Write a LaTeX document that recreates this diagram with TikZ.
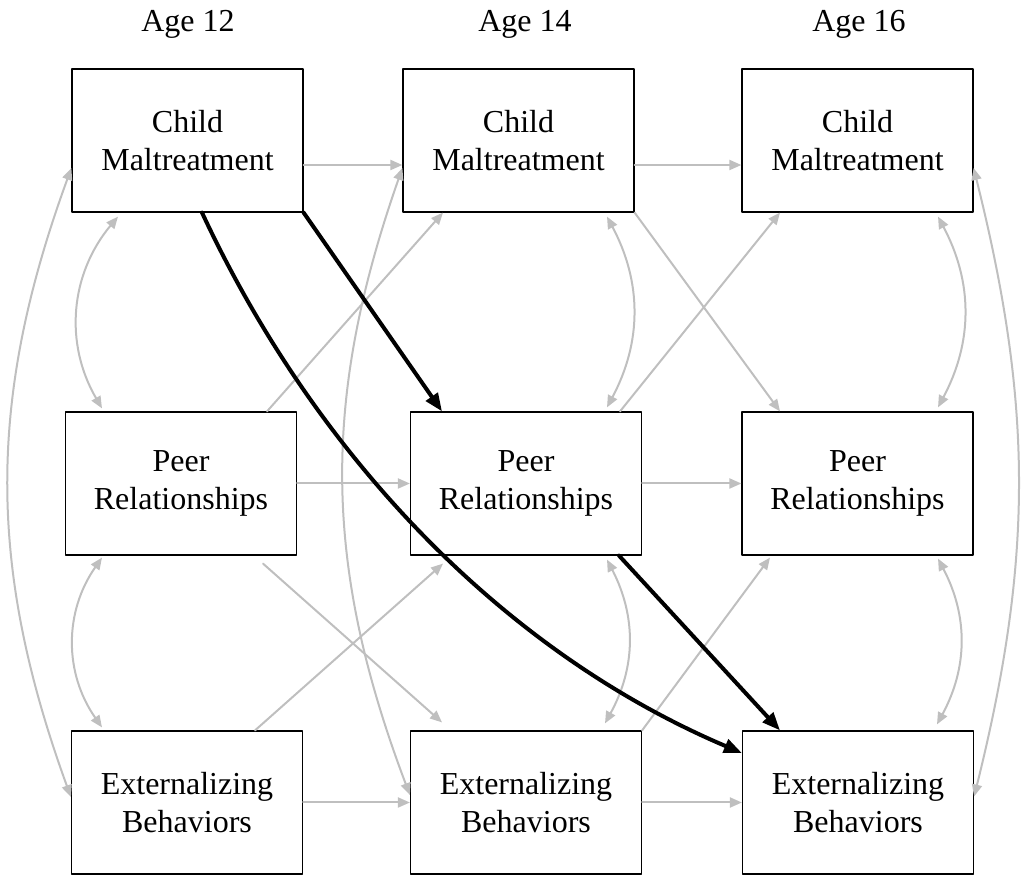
\documentclass[tikz,border=0pt]{standalone}
\usepackage{fontspec}
\setmainfont{Liberation Serif}
\usetikzlibrary{arrows.meta}
\definecolor{Lgray}{RGB}{191,191,191}
\tikzset{
  var/.style={draw,line width=1.2pt,minimum width=231pt,minimum height=143pt,inner sep=0pt,align=center,font=\fontsize{32}{38}\selectfont},
  agelabel/.style={anchor=base,inner sep=0pt,font=\fontsize{32}{38}\selectfont},
  lag/.style={draw=Lgray,line width=2pt,-{Triangle[length=12pt,width=10pt]}},
  cov/.style={draw=Lgray,line width=2pt,{Triangle[length=12pt,width=10pt]}-{Triangle[length=12pt,width=10pt]}},
  sig/.style={draw=black,line width=4pt,-{Triangle[length=18pt,width=14pt]}},
}

\begin{document}
\begin{tikzpicture}[x=1pt,y=1pt,line cap=round,line join=round]
\path[use as bounding box] (0,0) rectangle (1021,876);
\node[agelabel] (a12) at (188,844) {Age 12};
\node[agelabel] (a14) at (525,844) {Age 14};
\node[agelabel] (a16) at (859,844) {Age 16};
\node[var] (cm12) at (187.5,735.5) {Child\\Maltreatment};
\node[var] (cm14) at (518.5,735.5) {Child\\Maltreatment};
\node[var] (cm16) at (857.5,735.5) {Child\\Maltreatment};
\node[var] (pr12) at (181,392.5) {Peer\\Relationships};
\node[var] (pr14) at (526,392.5) {Peer\\Relationships};
\node[var] (pr16) at (857.5,392.5) {Peer\\Relationships};
\node[var] (eb12) at (187,73.5) {Externalizing\\Behaviors};
\node[var] (eb14) at (526,73.5) {Externalizing\\Behaviors};
\node[var] (eb16) at (858,73.5) {Externalizing\\Behaviors};
\draw[lag] ([yshift=-24.5pt]cm12.east) -- ([yshift=-24.5pt]cm14.west);
\draw[lag] ([yshift=-24.5pt]cm14.east) -- ([yshift=-24.5pt]cm16.west);
\draw[lag] (pr12.east) -- (pr14.west);
\draw[lag] (pr14.east) -- (pr16.west);
\draw[lag] (eb12.east) -- (eb14.west);
\draw[lag] (eb14.east) -- (eb16.west);
\draw[lag] ([xshift=86pt]pr12.north) -- ([xshift=-75.5pt]cm14.south);
\draw[lag] (cm14.south east) -- ([xshift=-77.5pt]pr16.north);
\draw[lag] ([xshift=94pt]pr14.north) -- ([xshift=-77.5pt]cm16.south);
\draw[lag] ([xshift=82pt,yshift=-8pt]pr12.south) -- ([xshift=-84pt,yshift=8pt]eb14.north);
\draw[lag] ([xshift=68pt]eb12.north) -- ([xshift=-83pt,yshift=-8pt]pr14.south);
\draw[lag] (eb14.north east) -- ([xshift=-87.5pt,yshift=-2pt]pr16.south);
\draw[cov] ([xshift=-69.5pt,yshift=-4pt]cm12.south) to[bend right=35] ([xshift=-79pt,yshift=3pt]pr12.north);
\draw[cov] ([xshift=-79pt,yshift=-2pt]pr12.south) to[bend right=35] ([xshift=-85pt,yshift=3pt]eb12.north);
\draw[cov] ([xshift=88.5pt,yshift=-4pt]cm14.south) to[bend left=28] ([xshift=81pt,yshift=4pt]pr14.north);
\draw[cov] ([xshift=81pt,yshift=-4pt]pr14.south) to[bend left=28] ([xshift=79pt,yshift=7pt]eb14.north);
\draw[cov] ([xshift=80.5pt,yshift=-4pt]cm16.south) to[bend left=28] ([xshift=80.5pt,yshift=4pt]pr16.north);
\draw[cov] ([xshift=80.5pt,yshift=-3pt]pr16.south) to[bend left=28] ([xshift=79pt,yshift=6pt]eb16.north);
\draw[cov] ([yshift=-27.5pt]cm12.west) to[bend right=20] ([yshift=5.5pt]eb12.west);
\draw[cov] ([yshift=-27.5pt]cm14.west) to[bend right=20] ([yshift=7.5pt]eb14.west);
\draw[cov] ([yshift=-27.5pt]cm16.east) to[bend left=14] ([yshift=6pt]eb16.east);
\draw[sig] (cm12.south east) -- ([xshift=-84pt]pr14.north);
\draw[sig] ([xshift=93pt]pr14.south) -- ([xshift=-78pt]eb16.north);
\draw[sig] ([xshift=14.5pt]cm12.south) to[out=-65,in=157,looseness=0.88] ([yshift=49.5pt]eb16.west);
\end{tikzpicture}
\end{document}
